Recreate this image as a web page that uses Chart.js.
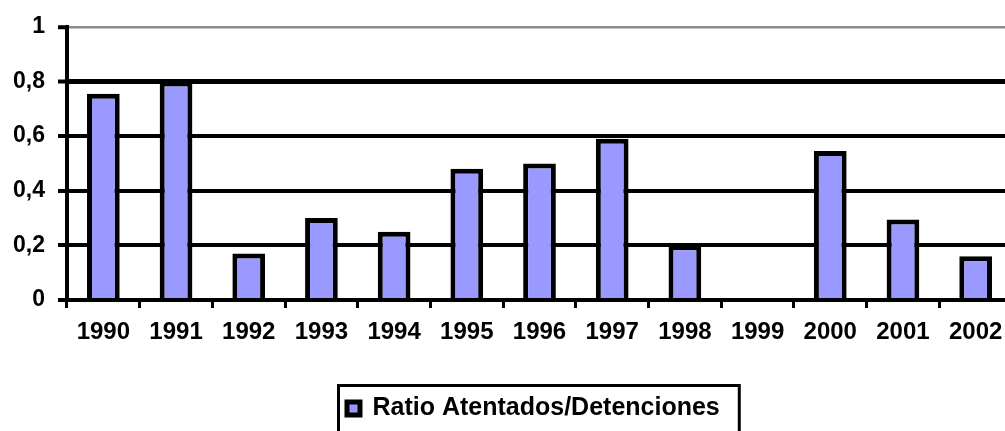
<!DOCTYPE html>
<html>
<head>
<meta charset="utf-8">
<script src="https://cdn.jsdelivr.net/npm/chart.js@4/dist/chart.umd.min.js"></script>
<style>
  html, body { margin: 0; padding: 0; background: #ffffff; overflow: hidden; }
  #wrap { position: absolute; left: 0; top: 0; }
</style>
</head>
<body>
<div id="wrap"><canvas id="c" width="1016" height="431"></canvas></div>
<script>
const categories = ['1990', '1991', '1992', '1993', '1994', '1995', '1996', '1997', '1998', '1999', '2000', '2001', '2002'];
const ratioValues = [0.755, 0.80, 0.17, 0.30, 0.25, 0.48, 0.50, 0.59, 0.20, 0, 0.545, 0.295, 0.16];
const seriesLabel = 'Ratio Atentados/Detenciones';
const yTickLabels = ['0', '0,2', '0,4', '0,6', '0,8', '1'];

Chart.defaults.font.family = "'Liberation Sans', Arial, sans-serif";
Chart.defaults.color = '#000000';

const legendFrame = {
  id: 'legendFrame',
  afterLayout(chart) {
    const lg = chart.legend;
    const w = lg.right - lg.left;
    const h = lg.bottom - lg.top;
    lg.left = 337; lg.right = lg.left + w;
    lg.top = 386; lg.bottom = lg.top + h;
  },
  afterDraw(chart) {
    const lg = chart.legend;
    const hb = lg.legendHitBoxes[0];
    if (!hb) return;
    const ctx = chart.ctx;
    ctx.save();
    ctx.strokeStyle = '#000000';
    ctx.lineWidth = 3;
    ctx.strokeRect(lg.left + 1.5, 385.5, hb.left + hb.width + 18 - lg.left, 80);
    ctx.restore();
  }
};

new Chart(document.getElementById('c'), {
  type: 'bar',
  data: {
    labels: categories,
    datasets: [{
      label: seriesLabel,
      data: ratioValues,
      backgroundColor: '#9999FF',
      borderColor: '#000000',
      borderWidth: 5,
      barPercentage: 0.45,
      categoryPercentage: 1.0
    }]
  },
  options: {
    responsive: false,
    animation: false,
    layout: { padding: { top: 26, right: 4, left: 0, bottom: 0 } },
    plugins: {
      legend: {
        position: 'bottom',
        align: 'start',
        labels: {
          boxWidth: 13,
          boxHeight: 13,
          padding: 10,
          color: '#000000',
          font: { size: 25, weight: 'bold' }
        }
      },
      tooltip: { enabled: false }
    },
    scales: {
      y: {
        min: 0,
        max: 1,
        afterFit(s) { s.width = 67; },
        ticks: {
          stepSize: 0.2,
          padding: 13,
          color: '#000000',
          font: { size: 23, weight: 'bold' },
          callback: (v, i) => yTickLabels[i]
        },
        border: { display: true, color: '#000000', width: 4 },
        grid: {
          color: (c) => (c.tick && c.tick.value >= 0.999) ? '#8a8a8a' : '#000000',
          lineWidth: (c) => {
            if (!c.tick) return 4;
            if (c.tick.value >= 0.999) return 2.5;
            if (Math.abs(c.tick.value - 0.8) < 0.01) return 5;
            return 4;
          },
          tickColor: '#000000',
          tickWidth: 4,
          tickLength: 9,
          drawTicks: true
        }
      },
      x: {
        afterFit(s) { s.height = s.chart.height - 300 - s.chart.legend.height; },
        ticks: {
          padding: 10,
          color: '#000000',
          maxRotation: 0,
          autoSkip: false,
          font: { size: 24, weight: 'bold' }
        },
        border: { display: true, color: '#000000', width: 4 },
        grid: {
          offset: true,
          drawOnChartArea: false,
          drawTicks: true,
          tickLength: 8,
          tickWidth: 3,
          tickColor: '#000000',
          color: '#000000'
        }
      }
    }
  },
  plugins: [legendFrame]
});
</script>
</body>
</html>
